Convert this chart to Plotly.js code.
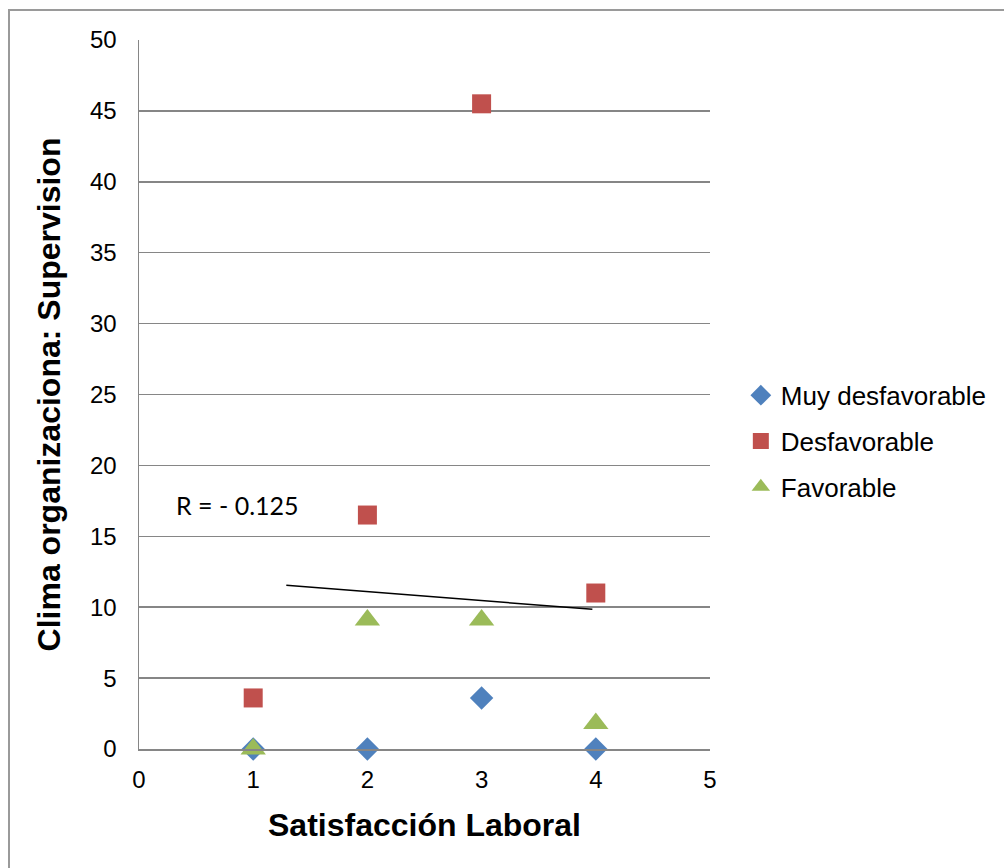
<!DOCTYPE html>
<html>
<head>
<meta charset="utf-8">
<script src="https://cdn.plot.ly/plotly-3.0.1.min.js"></script>
<style>
  html, body { margin: 0; padding: 0; background: #fff; }
  #chart { position: absolute; left: 0; top: 0; width: 1004px; height: 868px; }
  #frame { position: absolute; left: 8px; top: 9px; width: 1010px; height: 880px;
           border-left: 2px solid #9a9a9a; border-top: 2px solid #9a9a9a; pointer-events: none; }
</style>
</head>
<body>
<div id="chart"></div>
<div id="frame"></div>
<script>
// Data
const xValues = [1, 2, 3, 4];
const muyDesfavorable = [0, 0, 3.6, 0];
const desfavorable = [3.6, 16.5, 45.5, 11];
const favorable = [0, 9.1, 9.1, 1.8];
const trendX = [1.29, 3.97];
const trendY = [11.55, 9.85];
const seriesNames = ["Muy desfavorable", "Desfavorable", "Favorable"];
const rLabel = "R = - 0.125";

const traces = [
  {
    x: xValues, y: muyDesfavorable, name: seriesNames[0], type: "scatter", mode: "markers",
    legendgroup: "a",
    marker: { symbol: "diamond", size: 18, color: "#4F81BD" }, cliponaxis: false
  },
  {
    x: xValues, y: desfavorable, name: seriesNames[1], type: "scatter", mode: "markers",
    legendgroup: "b",
    marker: { symbol: "square", size: 19, color: "#C0504D" }, cliponaxis: false
  },
  {
    x: xValues, y: favorable, name: seriesNames[2], type: "scatter", mode: "markers",
    legendgroup: "c",
    marker: { symbol: "triangle-up", size: 22, color: "#9BBB59" }, cliponaxis: false
  },
  {
    x: trendX, y: trendY, type: "scatter", mode: "lines", showlegend: false,
    line: { color: "#000000", width: 1.5 }, hoverinfo: "skip"
  }
];

const layout = {
  width: 1004, height: 868,
  margin: { l: 139, r: 294, t: 40, b: 119 },
  paper_bgcolor: "#ffffff", plot_bgcolor: "#ffffff",
  font: { family: "Liberation Sans, Arial, sans-serif", color: "#000" },
  showlegend: true,
  legend: {
    x: 1.054, y: 0.434, xanchor: "left", yanchor: "middle",
    font: { size: 26, color: "#000" },
    traceorder: "grouped", tracegroupgap: 9, itemwidth: 30
  },
  xaxis: {
    range: [0, 5], dtick: 1, tick0: 0,
    showgrid: false, zeroline: false,
    showline: true, linecolor: "#868686", linewidth: 1.5,
    ticks: "", tickfont: { size: 24 }, ticklabelstandoff: 9,
    title: { text: "<b>Satisfacción Laboral</b>", font: { size: 32 }, standoff: 21 }
  },
  yaxis: {
    range: [0, 50], dtick: 5, tick0: 0,
    showgrid: true, gridcolor: "#868686", gridwidth: 1.5,
    zeroline: false, showline: true, linecolor: "#868686", linewidth: 1.5,
    ticks: "", tickfont: { size: 24 }, ticklabelstandoff: 16,
    title: { text: "<b>Clima organizaciona: Supervision</b>", font: { size: 32 }, standoff: 20 }
  },
  annotations: [
    { x: 0.31, y: 17.2, xref: "x", yref: "y", xanchor: "left", yanchor: "middle",
      text: rLabel, showarrow: false,
      font: { family: "Lato, Carlito, sans-serif", size: 25, color: "#000" } }
  ]
};

Plotly.newPlot("chart", traces, layout, { displayModeBar: false, staticPlot: true });
</script>
</body>
</html>
